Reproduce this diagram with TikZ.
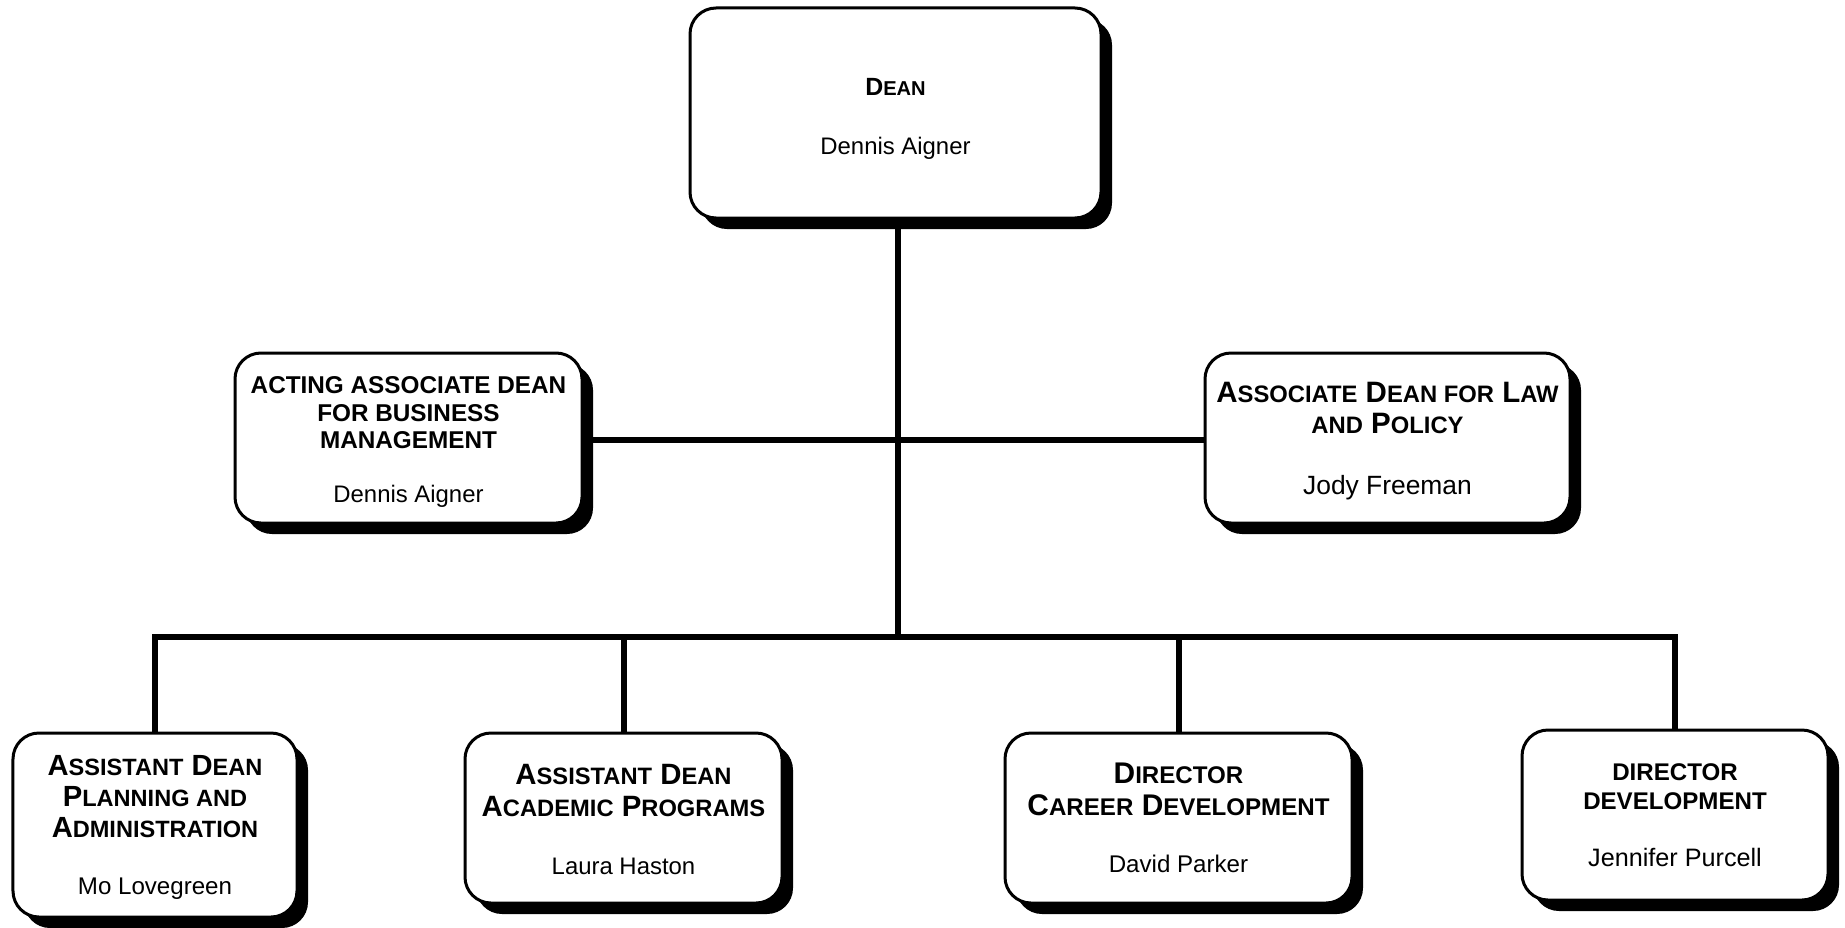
\documentclass[tikz,border=0pt]{standalone}
\usepackage{fontspec}
\setmainfont{Liberation Sans}
\usetikzlibrary{shadows}
\makeatletter
\newcommand{\lowcap}[1]{{\fontsize{\strip@pt\dimexpr0.807\dimexpr\f@size pt\relax\relax}{\f@baselineskip}\selectfont #1}}
\makeatother
\newcommand{\nm}[2]{{\fontsize{#1}{30}\selectfont\mdseries #2}}
\tikzset{
  orgbox/.style={draw, line width=3bp, fill=white, rounded corners=26bp,
    align=center, inner sep=0pt,
    drop shadow={shadow xshift=11bp, shadow yshift=-11bp, opacity=1, fill=black}},
  conn/.style={line width=6bp}
}
\begin{document}
\begin{tikzpicture}[x=1bp, y=-1bp]
  \useasboundingbox (0,0) rectangle (1845,927);
  % top
  \node [orgbox, minimum width=411bp, minimum height=210bp, font=\fontsize{25}{30}\selectfont\bfseries] (dean) at (895.5,113)
    {\rule{0pt}{29bp}D\lowcap{EAN}\\[30bp]\nm{24}{Dennis Aigner}};
  % second row
  \node [orgbox, minimum width=347bp, minimum height=170bp, font=\fontsize{24.4}{27.5}\selectfont\bfseries] (busmgr) at (408.5,438)
    {\rule{0pt}{25bp}ACTING ASSOCIATE DEAN\\FOR BUSINESS\\MANAGEMENT\\[26bp]\nm{24}{Dennis Aigner}};
  \node [orgbox, minimum width=365bp, minimum height=170bp, font=\fontsize{29.6}{32}\selectfont\bfseries] (lawpol) at (1387.5,438)
    {\rule{0pt}{26bp}A\lowcap{SSOCIATE} D\lowcap{EAN FOR} L\lowcap{AW}\\\lowcap{AND} P\lowcap{OLICY}\\[28.7bp]\nm{26.5}{Jody Freeman}};
  % third row
  \node [orgbox, minimum width=284bp, minimum height=184bp, font=\fontsize{29.3}{31.5}\selectfont\bfseries] (plan) at (155,825)
    {\rule{0pt}{25bp}A\lowcap{SSISTANT} D\lowcap{EAN}\\P\lowcap{LANNING AND}\\A\lowcap{DMINISTRATION}\\[25.8bp]\nm{24.2}{Mo Lovegreen}};
  \node [orgbox, minimum width=317bp, minimum height=170bp, font=\fontsize{29.5}{32}\selectfont\bfseries] (acad) at (623.5,818)
    {\rule{0pt}{23bp}A\lowcap{SSISTANT} D\lowcap{EAN}\\A\lowcap{CADEMIC} P\lowcap{ROGRAMS}\\[25.9bp]\nm{24}{Laura Haston}};
  \node [orgbox, minimum width=347bp, minimum height=170bp, font=\fontsize{30}{32}\selectfont\bfseries] (career) at (1178.5,818)
    {D\lowcap{IRECTOR}\\C\lowcap{AREER} D\lowcap{EVELOPMENT}\\[25.8bp]\nm{24.2}{David Parker}};
  \node [orgbox, minimum width=306bp, minimum height=170bp, font=\fontsize{24.2}{29}\selectfont\bfseries] (devel) at (1675,815)
    {DIRECTOR\\DEVELOPMENT\\[28.3bp]\nm{25.3}{Jennifer Purcell}};
  % lines
  \coordinate (bus) at (898,637);
  \draw [conn] (dean.south -| bus) -- (bus);
  \draw [conn] ([yshift=-2bp]busmgr.east) -- ([yshift=-2bp]lawpol.west);
  \draw [conn] (plan.north) |- (bus) -| (devel.north);
  \draw [conn] (acad.north) -- (acad.north |- bus);
  \draw [conn] (career.north) -- (career.north |- bus);
\end{tikzpicture}
\end{document}
